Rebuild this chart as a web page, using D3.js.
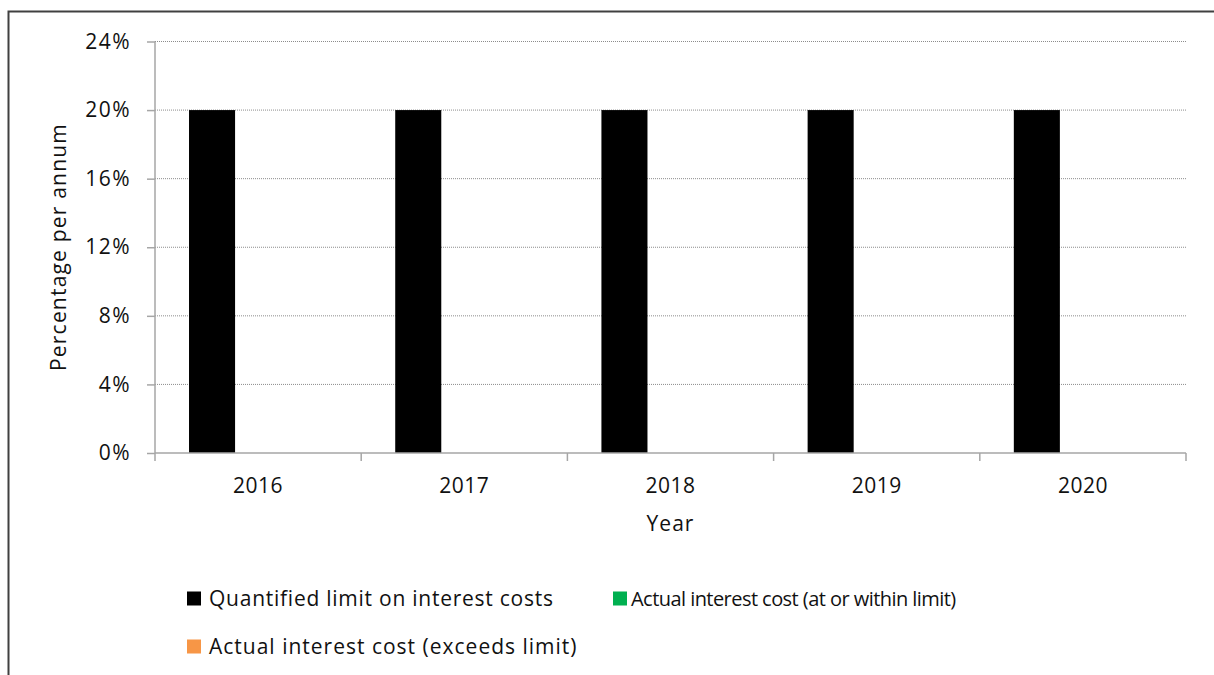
<!DOCTYPE html>
<html>
<head>
<meta charset="utf-8">
<script src="https://cdn.jsdelivr.net/npm/d3@7"></script>
<style>
  body { margin: 0; background: #fff; }
  svg { display: block; }
</style>
</head>
<body>
<svg id="chart"></svg>
<script>
// values
var years = ["2016", "2017", "2018", "2019", "2020"];
var seriesNames = ["Quantified limit on interest costs",
                   "Actual interest cost (at or within limit)",
                   "Actual interest cost (exceeds limit)"];
var seriesColors = ["#000000", "#00b050", "#f79646"];
var limitValues = [20, 20, 20, 20, 20];
var withinValues = [null, null, null, null, null];
var exceedsValues = [null, null, null, null, null];
var yTicks = [0, 4, 8, 12, 16, 20, 24];

var W = 1214, H = 675;
var margin = { top: 41.5, left: 155, right: 28, bottom: 222 };
var width = W - margin.left - margin.right,
    height = H - margin.top - margin.bottom;

var svg = d3.select("#chart").attr("width", W).attr("height", H);

// outer frame (runs past the right and bottom edge)
svg.append("rect")
   .attr("x", 8.5).attr("y", 11.5)
   .attr("width", 1400).attr("height", 900)
   .attr("fill", "none")
   .attr("stroke", "#404040")
   .attr("stroke-width", 2);

var g = svg.append("g")
           .attr("transform", "translate(" + margin.left + "," + margin.top + ")");

var x0 = d3.scaleBand()
           .domain(years)
           .range([0, width])
           .paddingInner(0.33)
           .paddingOuter(0.165);

var x1 = d3.scaleBand()
           .domain(d3.range(seriesNames.length))
           .range([0, x0.bandwidth()]);

var y = d3.scaleLinear()
          .domain([0, 24])
          .range([height, 0]);

// dotted gridlines
g.selectAll(".grid")
 .data(yTicks.filter(function (t) { return t > 0; }))
 .enter().append("line")
 .attr("class", "grid")
 .attr("x1", 0).attr("x2", width)
 .attr("y1", function (d) { return y(d); })
 .attr("y2", function (d) { return y(d); })
 .attr("stroke", "#8c8c8c")
 .attr("stroke-width", 1)
 .attr("stroke-dasharray", "1,1");

// bars
var table = years.map(function (yr, i) {
  return { year: yr, values: [limitValues[i], withinValues[i], exceedsValues[i]] };
});

var groups = g.selectAll(".grp")
              .data(table)
              .enter().append("g")
              .attr("transform", function (d) { return "translate(" + x0(d.year) + ",0)"; });

groups.selectAll("rect")
      .data(function (d) {
        return d.values.map(function (v, k) { return { k: k, v: v }; })
                       .filter(function (e) { return e.v != null; });
      })
      .enter().append("rect")
      .attr("x", function (d) { return x1(d.k); })
      .attr("width", x1.bandwidth())
      .attr("y", function (d) { return y(d.v); })
      .attr("height", function (d) { return height - y(d.v); })
      .attr("fill", function (d) { return seriesColors[d.k]; });

// y axis
var yAxis = d3.axisLeft(y)
              .tickValues(yTicks)
              .tickSize(8)
              .tickPadding(16)
              .tickFormat(function (d) { return d + "%"; });

var ya = g.append("g").call(yAxis);
ya.select(".domain").attr("stroke", "#a6a6a6").attr("stroke-width", 1.5)
  .attr("d", "M0," + height + "V0");
ya.selectAll(".tick line").attr("stroke", "#a6a6a6").attr("stroke-width", 1.5);
ya.selectAll(".tick text")
  .attr("fill", "#111")
  .style("font-family", "'Open Sans', sans-serif")
  .style("font-size", "21px")
  .style("letter-spacing", "1.5px")
  .attr("dy", "0.32em");

// x axis, ticks on category boundaries
var xa = g.append("g").attr("transform", "translate(0," + height + ")");
xa.append("line")
  .attr("x1", 0).attr("x2", width)
  .attr("stroke", "#a6a6a6").attr("stroke-width", 1.5);
xa.selectAll(".xtick")
  .data(d3.range(years.length + 1))
  .enter().append("line")
  .attr("x1", function (i) { return i * x0.step(); })
  .attr("x2", function (i) { return i * x0.step(); })
  .attr("y1", 0).attr("y2", 8)
  .attr("stroke", "#a6a6a6").attr("stroke-width", 1.5);
xa.selectAll(".xlab")
  .data(years)
  .enter().append("text")
  .attr("x", function (d) { return x0(d) - x0.step() * 0.165 + x0.step() / 2; })
  .attr("y", 40)
  .attr("text-anchor", "middle")
  .attr("fill", "#111")
  .style("font-family", "'Open Sans', sans-serif")
  .style("font-size", "21px")
  .style("letter-spacing", "0.5px")
  .text(function (d) { return d; });

// axis titles
svg.append("text")
   .attr("x", margin.left + width / 2)
   .attr("y", 531)
   .attr("text-anchor", "middle")
   .attr("fill", "#111")
   .style("font-family", "'Open Sans', sans-serif")
   .style("font-size", "21px")
   .style("letter-spacing", "1px")
   .text("Year");

svg.append("text")
   .attr("transform", "translate(66,247) rotate(-90)")
   .attr("text-anchor", "middle")
   .attr("fill", "#111")
   .style("font-family", "'Open Sans', sans-serif")
   .style("font-size", "21px")
   .style("letter-spacing", "1.2px")
   .text("Percentage per annum");

// legend
var legendPos = [[187, 591.5], [613, 591.5], [187, 639.5]];
var legendSpacing = ["0.75px", "-0.55px", "1px"];
var legendSize = ["21px", "20px", "21px"];
var leg = svg.selectAll(".leg")
             .data(seriesNames)
             .enter().append("g")
             .attr("transform", function (d, i) { return "translate(" + legendPos[i][0] + "," + legendPos[i][1] + ")"; });
leg.append("rect")
   .attr("width", 14).attr("height", 14)
   .attr("fill", function (d, i) { return seriesColors[i]; });
leg.append("text")
   .attr("x", function (d, i) { return i == 1 ? 18 : 22; })
   .attr("y", 14)
   .attr("fill", "#111")
   .style("font-family", "'Open Sans', sans-serif")
   .style("font-size", function (d, i) { return legendSize[i]; })
   .style("letter-spacing", function (d, i) { return legendSpacing[i]; })
   .text(function (d) { return d; });
</script>
</body>
</html>
